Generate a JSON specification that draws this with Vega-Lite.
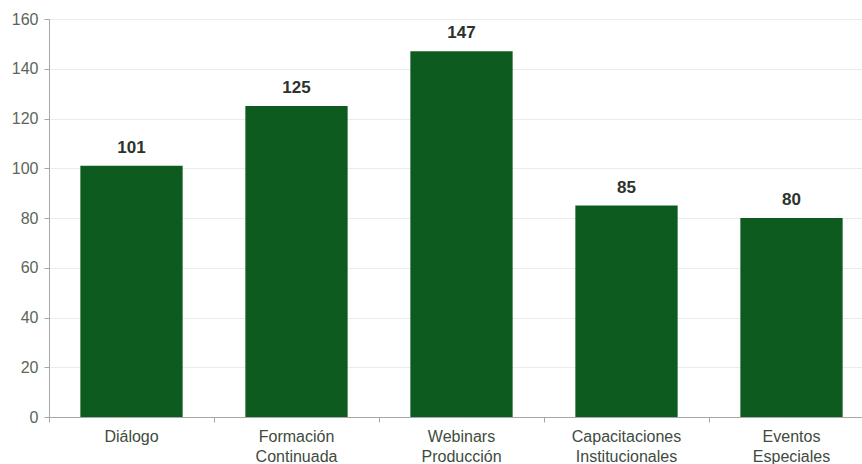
{
  "$schema": "https://vega.github.io/schema/vega-lite/v6.json",
  "autosize": {"type": "none"},
  "padding": {"left": 49, "top": 19, "right": 0, "bottom": 47},
  "width": 825,
  "height": 398,
  "background": "white",
  "config": {
    "view": {"stroke": null},
    "font": "Liberation Sans"
  },
  "data": {
    "values": [
      {"categoria": "Diálogo", "valor": 101},
      {"categoria": "Formación Continuada", "valor": 125},
      {"categoria": "Webinars Producción", "valor": 147},
      {"categoria": "Capacitaciones Institucionales", "valor": 85},
      {"categoria": "Eventos Especiales", "valor": 80}
    ]
  },
  "encoding": {
    "x": {
      "field": "categoria",
      "type": "nominal",
      "sort": null,
      "scale": {"paddingInner": 0, "paddingOuter": 0},
      "axis": {
        "title": null,
        "labelAngle": 0,
        "labelExpr": "split(datum.value, ' ')",
        "labelFontSize": 16,
        "labelColor": "#404b40",
        "labelLineHeight": 20,
        "labelPadding": 6,
        "bandPosition": 0,
        "domainColor": "#a6a6a6",
        "tickColor": "#a6a6a6",
        "tickSize": 5,
        "grid": false
      }
    },
    "y": {
      "field": "valor",
      "type": "quantitative",
      "scale": {"domain": [0, 160], "nice": false},
      "axis": {
        "title": null,
        "values": [0, 20, 40, 60, 80, 100, 120, 140, 160],
        "labelFontSize": 16,
        "labelColor": "#5a665a",
        "labelPadding": 6,
        "domainColor": "#a6a6a6",
        "tickColor": "#a6a6a6",
        "tickSize": 5,
        "gridColor": "#ebebeb",
        "grid": true
      }
    }
  },
  "layer": [
    {
      "mark": {"type": "bar", "color": "#0e5b20", "width": {"band": 0.62}}
    },
    {
      "mark": {"type": "text", "dy": -9, "baseline": "bottom", "fontSize": 17, "fontWeight": "bold", "color": "#2b332b"},
      "encoding": {"text": {"field": "valor", "type": "quantitative"}}
    }
  ]
}
